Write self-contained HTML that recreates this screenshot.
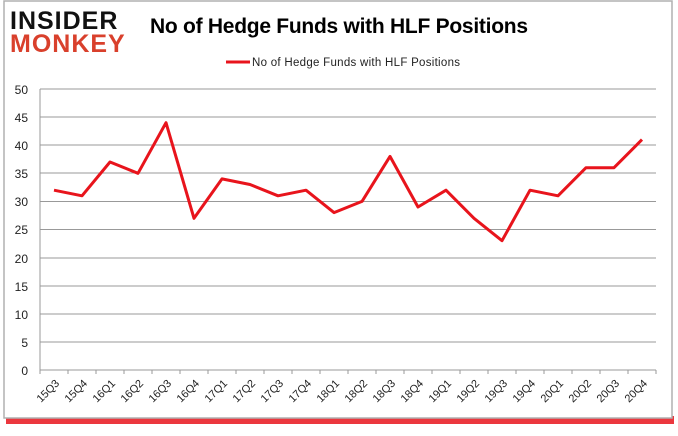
<!DOCTYPE html>
<html><head><style>
body{margin:0;width:678px;height:431px;background:#fff;overflow:hidden}
text{font-family:"Liberation Sans",sans-serif}
</style></head><body>
<svg width="678" height="431" xmlns="http://www.w3.org/2000/svg">
<rect x="6" y="416" width="668" height="8" fill="#e8141c" opacity="0.85"/>
<rect x="4" y="1" width="668" height="417" fill="#fff" stroke="#b0b0b0" stroke-width="1.5"/>
<text x="10" y="29" font-size="25" font-weight="900" fill="#111" letter-spacing="1">INSIDER</text>
<text x="10" y="52" font-size="25" font-weight="900" fill="#d9402c" letter-spacing="1">MONKEY</text>
<text x="150" y="33" font-size="21" fill="#000" font-weight="bold" textLength="378">No of Hedge Funds with HLF Positions</text>
<line x1="226" y1="62" x2="250" y2="62" stroke="#e8141c" stroke-width="3"/>
<text x="252" y="66" font-size="11.5" fill="#222" textLength="208">No of Hedge Funds with HLF Positions</text>
<g stroke="#999" stroke-width="1">
<line x1="40" y1="89" x2="656" y2="89"/><line x1="40" y1="145" x2="656" y2="145"/>
<line x1="40" y1="201.5" x2="656" y2="201.5"/><line x1="40" y1="258" x2="656" y2="258"/>
<line x1="40" y1="314" x2="656" y2="314"/><line x1="40" y1="370" x2="656" y2="370"/>
<line x1="40" y1="117" x2="656" y2="117"/><line x1="40" y1="173" x2="656" y2="173"/>
<line x1="40" y1="229.5" x2="656" y2="229.5"/><line x1="40" y1="286" x2="656" y2="286"/>
<line x1="40" y1="342" x2="656" y2="342"/>
<line x1="40" y1="89" x2="40" y2="374"/>
</g>
<g font-size="12" fill="#222" text-anchor="end">
<text x="28" y="94">50</text><text x="28" y="122">45</text><text x="28" y="150">40</text>
<text x="28" y="178">35</text><text x="28" y="206">30</text><text x="28" y="234">25</text>
<text x="28" y="263">20</text><text x="28" y="291">15</text><text x="28" y="319">10</text>
<text x="28" y="347">5</text><text x="28" y="375">0</text>
</g>
<g id="ticks" stroke="#999"></g>
<polyline fill="none" stroke="#e8141c" stroke-width="3" stroke-linejoin="round" points="54,190.2 82,195.8 110,162 138,173.3 166,122.7 194,218.3 222,178.9 250,184.5 278,195.8 306,190.2 334,212.6 362,201.4 390,156.4 418,207 446,190.2 474,218.3 502,240.7 530,190.2 558,195.8 586,167.7 614,167.7 642,139.6"/>
<g id="xl" font-size="11" fill="#222" text-anchor="end"></g>
</svg>
<script>
var L=["15Q3","15Q4","16Q1","16Q2","16Q3","16Q4","17Q1","17Q2","17Q3","17Q4","18Q1","18Q2","18Q3","18Q4","19Q1","19Q2","19Q3","19Q4","20Q1","20Q2","20Q3","20Q4"];
var ns="http://www.w3.org/2000/svg",t=document.getElementById("ticks"),g=document.getElementById("xl");
for(var i=0;i<=22;i++){var l=document.createElementNS(ns,"line");var x=40+28*i;l.setAttribute("x1",x);l.setAttribute("x2",x);l.setAttribute("y1",370);l.setAttribute("y2",374);t.appendChild(l);}
L.forEach(function(s,i){var x=60+28*i,y=384;var e=document.createElementNS(ns,"text");e.setAttribute("x",x);e.setAttribute("y",y);e.setAttribute("transform","rotate(-45 "+x+" "+y+")");e.textContent=s;g.appendChild(e);});
</script>
</body></html>
